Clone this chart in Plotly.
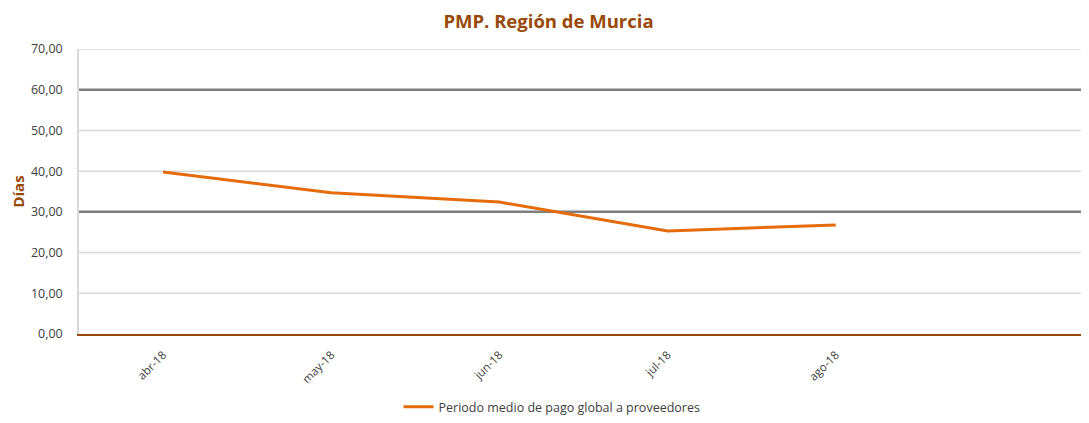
import plotly.graph_objects as go

categories = ["abr-18", "may-18", "jun-18", "jul-18", "ago-18"]
pmp_values = [39.8, 34.7, 32.4, 25.3, 26.8]
reference_levels = [30, 60]
grid_levels = [10, 20, 30, 40, 50, 60, 70]
series_name = "Periodo medio de pago global a proveedores"

fig = go.Figure()
fig.add_trace(go.Scatter(
    x=categories, y=pmp_values, mode="lines", name=series_name,
    line=dict(color="#E46C0A", width=3),
))

for lvl in grid_levels:
    fig.add_shape(type="line", xref="paper", x0=0, x1=1, yref="y", y0=lvl, y1=lvl,
                  line=dict(color="#d9d9d9", width=1.5), layer="below")
for lvl in reference_levels:
    fig.add_shape(type="line", xref="paper", x0=0, x1=1, yref="y", y0=lvl, y1=lvl,
                  line=dict(color="#7f7f7f", width=2.5), layer="below")

fig.update_layout(
    width=1081, height=415,
    margin=dict(l=71, r=1, t=41, b=86),
    paper_bgcolor="white", plot_bgcolor="white",
    separators=",.",
    font=dict(family="Open Sans", size=11, color="#404040"),
    title=dict(text="<b>PMP. Región de Murcia</b>", x=0.5, xanchor="center",
               y=1 - 13.5 / 415, yanchor="middle", automargin=False,
               font=dict(family="Open Sans", size=18.5, color="#984807")),
    showlegend=True,
    legend=dict(orientation="h", x=(544 - 71) / 1009, xanchor="center",
                y=-74 / 288, yanchor="middle",
                font=dict(size=12.5, color="#404040")),
    xaxis=dict(type="category", categoryorder="array", categoryarray=categories,
               range=[-0.5, 5.5], showgrid=False, showline=True, automargin=False,
               linecolor="#984807", linewidth=1.5, tickangle=-45,
               ticklabelstandoff=8,
               tickfont=dict(size=11.5), ticks="", fixedrange=True),
    yaxis=dict(range=[0, 70], dtick=10, tickformat=".2f", showgrid=False,
               showline=True, automargin=False,
               linecolor="#d9d9d9", linewidth=1.5, zeroline=False,
               ticklabelstandoff=12, tickfont=dict(size=12.5),
               title=dict(text="<b>Días</b>", standoff=14,
                          font=dict(size=15, color="#984807"))),
)

fig.write_html("out.html")
